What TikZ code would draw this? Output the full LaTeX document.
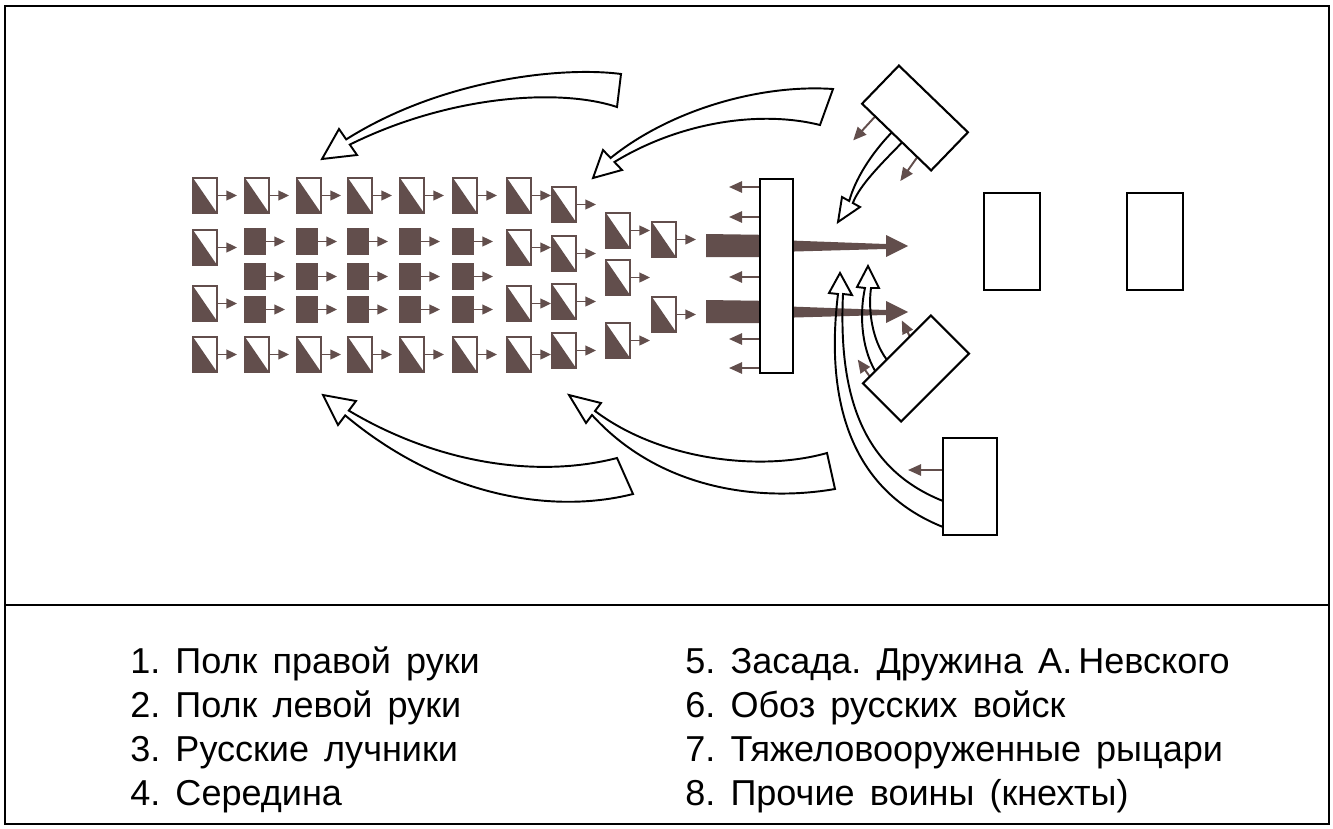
\documentclass[tikz,border=0pt]{standalone}
\usepackage{fontspec}
\newfontfamily\lgfont{Liberation Sans}
\usetikzlibrary{arrows.meta,calc,backgrounds}
\definecolor{kcol}{RGB}{98,78,76}
\newcommand\kblock[3]{\node[kn] (#1) at ({#2+12},{#3+17.5}) {}; \draw[sarr] (#1.east) -- ++(20,0);}
\newcommand\sblock[3]{\node[sqb] (#1) at ({#2+10},{#3+12.5}) {}; \draw[sarr] (#1.east) -- ++(20,0);}
\newcommand\lgset{\lgfont\fontsize{20.5}{24}\selectfont\spaceskip=0.42em plus 0.1em\relax}
\begin{document}
\frenchspacing
\begin{tikzpicture}[x=0.2mm,y=-0.2mm,
 kn/.style={draw=kcol, line width=0.8pt, fill=white, minimum width=4.8mm, minimum height=7mm, inner sep=0pt, outer sep=0pt,
   path picture={\fill[kcol] (path picture bounding box.north west) -- (path picture bounding box.south east) -- (path picture bounding box.south west) -- cycle;}},
 sqb/.style={draw=kcol, fill=kcol, line width=0.8pt, minimum width=4mm, minimum height=5mm, inner sep=0pt, outer sep=0pt},
 box/.style={draw=black, fill=white, line width=1.2pt, inner sep=0pt, outer sep=0pt},
 sarr/.style={draw=kcol, line width=1.1pt, -{Triangle[length=6pt,width=5.5pt]}},
 barr/.style={draw=kcol, line width=1.1pt, -{Triangle[length=7.5pt,width=6.5pt]}},
 rib/.style={draw=black, line width=1.1pt, fill=white},
 ln/.style={draw=black, line width=1.1pt},
 lg/.style={anchor=base west, inner sep=0pt, font=\lgset}]
\useasboundingbox (0,0) rectangle (1333,828);
% frame
\draw[line width=1.6pt] (5,6) rectangle (1329,824);
\draw[line width=1.4pt] (5,605) -- (1329,605);

% boxes
\node[box, minimum width=6.6mm, minimum height=38.8mm] (r4) at (776.5,276) {};
\node[box, minimum width=11.2mm, minimum height=19.4mm] (o1) at (1012,241.5) {};
\node[box, minimum width=11.2mm, minimum height=19.4mm] (o2) at (1155,241.5) {};
\node[box, minimum width=19.2mm, minimum height=10.6mm, rotate=-44] (r5a) at (915,118) {};
\node[box, minimum width=19.2mm, minimum height=10.8mm, rotate=45] (r5b) at (916,368.5) {};
\node[box, minimum width=10.8mm, minimum height=19.4mm] (r5c) at (970,486.5) {};

% formation
\foreach \x [count=\i] in {193,245,297,348,400,453,507} {\kblock{a\i}{\x}{178}}
\kblock{a8}{552}{187}
\kblock{b1}{193}{230}
\foreach \x [count=\i from 2] in {245,297,348,400,453} {\sblock{bs\i}{\x}{229}}
\kblock{b7}{507}{230}
\kblock{b8}{552}{236}
\foreach \x [count=\i from 2] in {245,297,348,400,453} {\sblock{cs\i}{\x}{264}}
\kblock{d1}{193}{286}
\foreach \x [count=\i from 2] in {245,297,348,400,453} {\sblock{ds\i}{\x}{297}}
\kblock{d7}{507}{286}
\kblock{d8}{552}{284}
\foreach \x [count=\i] in {193,245,297,348,400,453,507} {\kblock{e\i}{\x}{337}}
\kblock{e8}{552}{333}
\kblock{f1}{606}{213}
\kblock{f2}{606}{260}
\kblock{f3}{606}{323}
\kblock{g1}{652}{222}
\kblock{g2}{652}{297}

\begin{scope}[on background layer]
% knights' thrust wedges
\fill[kcol] (706,234) -- (776,235) -- (776,240) -- (886,244) -- (886,235) -- (908,246) -- (886,257) -- (886,249) -- (776,252) -- (776,257) -- (706,257) -- cycle;
\begin{scope}[shift={(0,66)}]
\fill[kcol] (706,234) -- (776,235) -- (776,240) -- (886,244) -- (886,235) -- (908,246) -- (886,257) -- (886,249) -- (776,252) -- (776,257) -- (706,257) -- cycle;
\end{scope}
% small arrows from the centre
\foreach \d in {8,38,98,160,189} {\draw[barr] ($(r4.north west)+(0,\d)$) -- ++(-31,0);}
% ambush arrows
\draw[barr] ($(r5a.south west)!0.19!(r5a.south east)$) -- ++(-22,24);
\draw[barr] ($(r5a.south west)!0.80!(r5a.south east)$) -- ++(-17,24);
\draw[barr] ($(r5b.north west)!0.69!(r5b.north east)$) -- ++(-8,-16);
\draw[barr] ($(r5b.north west)!0.10!(r5b.north east)$) -- ++(-12,-17);
\draw[barr] ($(r5c.north west)+(0,32)$) -- ++(-35,0);
% hollow ribbon arrows of the ambush
\draw[ln] ($(r5a.south west)!0.43!(r5a.south east)$) .. controls (870,155) and (855,180) .. (849.2,201) -- (842,197) -- (838,222) -- (860,207) -- (852.8,203) .. controls (860,185) and (880,165) .. ($(r5a.south west)!0.58!(r5a.south east)$);
\draw[ln] ($(r5b.north west)!0.18!(r5b.north east)$) .. controls (860,345) and (860,310) .. (865,288) -- (857,287) -- (868,266) -- (879,288) -- (871,288) .. controls (868,310) and (872,340) .. ($(r5b.north west)!0.35!(r5b.north east)$);
\draw[ln] ($(r5c.north west)+(0,89)$) .. controls (850,490) and (825,400) .. (838,294) -- (829,293) -- (840,273) -- (852,295) -- (843,294) .. controls (838,400) and (865,470) .. ($(r5c.north west)+(0,63)$);
\end{scope}

% big ribbon arrows (flanks)
\draw[rib] (621,74) .. controls (560,66) and (440,80) .. (346.2,139.4) -- (339,129) -- (322,159) -- (357,155) -- (349.8,144.6) .. controls (450,95) and (560,88) .. (617,107) -- cycle;
\draw[rib] (833,89) .. controls (760,84) and (670,110) .. (610.6,158) -- (603,150) -- (593,178) -- (622,170) -- (614.4,162) .. controls (680,122) and (760,110) .. (820,125) -- cycle;
\draw[rib] (617,458) .. controls (540,478) and (440,465) .. (348.8,410.6) -- (356,401) -- (323,395) -- (338,425) -- (345.2,415.4) .. controls (440,495) and (550,515) .. (633,494) -- cycle;
\draw[rib] (827,453) .. controls (760,472) and (660,460) .. (595,411) -- (601,403) -- (569,395) -- (586,423) -- (592,415) .. controls (660,490) and (760,502) .. (835,489) -- cycle;

% legend
\node[lg] (l1) at (130,673) {1. Полк правой руки};
\node[lg] (l2) at (130,717) {2. Полк левой руки};
\node[lg] (l3) at (130,761) {3. Русские лучники};
\node[lg] (l4) at (130,805) {4. Середина};
\node[lg] (l5) at (685,673) {5. Засада. Дружина А.\,Невского};
\node[lg] (l6) at (685,717) {6. Обоз русских войск};
\node[lg] (l7) at (685,761) {7. Тяжеловооруженные рыцари};
\node[lg] (l8) at (685,805) {8. Прочие воины (кнехты)};
\end{tikzpicture}
\end{document}
